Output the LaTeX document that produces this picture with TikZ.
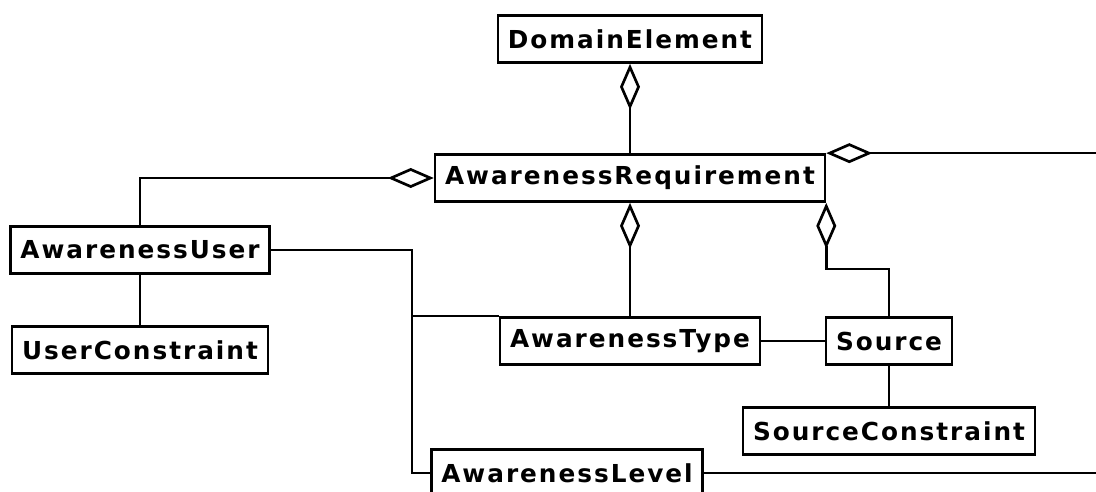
\documentclass[tikz,border=0pt]{standalone}
\usepackage{fontspec}
\newfontfamily\umlfont[LetterSpace=8]{DejaVu Sans}
\usepackage{tikz}
\usetikzlibrary{arrows.meta}
\tikzset{class/.style={draw, line width=1.9pt, inner xsep=0.25cm, inner ysep=0pt,
    minimum height=1.175cm, font=\umlfont\bfseries\fontsize{17.6}{20}\selectfont},
  link/.style={line width=1.9pt},
  agg/.tip={Diamond[open, length=1.15cm, width=0.5cm]}}

\begin{document}
\begin{tikzpicture}[x=0.025cm, y=-0.025cm]
\useasboundingbox (0,0) rectangle (1096,492);

\node[class] (de) at (630,39) {DomainElement};
\node[class] (ar) at (630,178) {AwarenessRequirement};
\node[class] (au) at (140,250) {AwarenessUser};
\node[class] (uc) at (140,350) {UserConstraint};
\node[class] (at) at (630,341) {AwarenessType};
\node[class] (src) at (889,341) {Source};
\node[class] (sc) at (889,431) {SourceConstraint};
\node[class] (al) at (567,473) {AwarenessLevel};

\coordinate (out) at (1100,300);
\coordinate (bend) at (412,473);

% aggregations
\draw[link, agg-] (de) -- (ar);
\draw[link, -agg] (au.north) |- (ar.west);
\draw[link, agg-] (ar.north east) -- (ar.north east -| out);
\draw[link, agg-] (ar) -- (at);
\draw[link, agg-] (ar.south east) -- ++(0,66) -| (src.north);

% plain associations
\draw[link] (au) -- (uc);
\draw[link] (at) -- (src);
\draw[link] (src) -- (sc);
\draw[link] (au.east) -| (bend) -- (al.west);
\draw[link] (at.north west) -- (at.north west -| bend);
\draw[link] (al.east) -- (al.east -| out);
\end{tikzpicture}
\end{document}
